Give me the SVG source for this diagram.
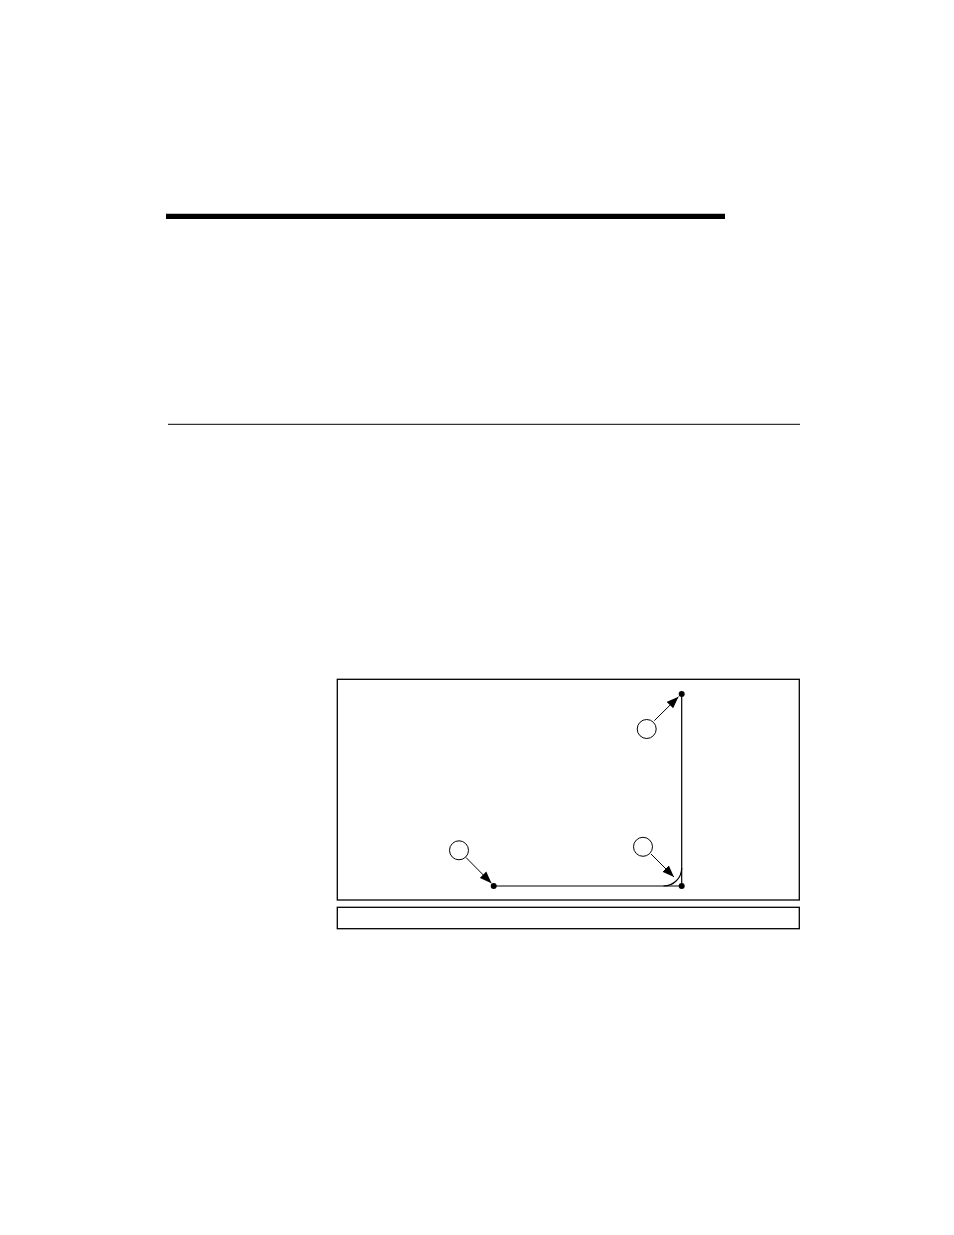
<svg xmlns="http://www.w3.org/2000/svg" width="954" height="1235" viewBox="0 0 954 1235">
<defs>
<style>
.frame{fill:none;stroke:#000;stroke-width:1.3}
.rule{stroke:#000}
.line{fill:none;stroke:#000;stroke-width:1.2}
.node{fill:#fff;stroke:#000;stroke-width:1}
.dot{fill:#000}
.ptr{fill:none;stroke:#000;stroke-width:1}
</style>
<marker id="ah" viewBox="0 0 12 10" refX="12" refY="5" markerWidth="12" markerHeight="10" markerUnits="userSpaceOnUse" orient="auto">
<path d="M0,0.5 L12,5 L0,9.5 Z" fill="#000"/>
</marker>
</defs>
<rect width="954" height="1235" fill="#fff"/>
<g id="rules">
<line class="rule" x1="166" y1="216.3" x2="725" y2="216.3" stroke-width="5.3"/>
<line class="rule" x1="168" y1="424.3" x2="800" y2="424.3" stroke-width="1"/>
</g>
<g id="frames">
<rect class="frame" x="337.3" y="679.3" width="462" height="220.7"/>
<rect class="frame" x="337.3" y="907.3" width="462" height="21.4"/>
</g>
<g id="connectors">
<polyline class="line" points="493.7,886 681.7,886 681.7,694"/>
<path class="line" d="M663.5,886 A18,18 0 0 0 681.7,868"/>
<line class="ptr" x1="654.3" y1="720.7" x2="678.5" y2="696.7" marker-end="url(#ah)"/>
<line class="ptr" x1="466" y1="857.5" x2="491.5" y2="883.3" marker-end="url(#ah)"/>
<line class="ptr" x1="651" y1="854" x2="674" y2="877" marker-end="url(#ah)"/>
</g>
<g id="point-top"><circle class="dot" cx="681.7" cy="694" r="3"/></g>
<g id="point-corner"><circle class="dot" cx="681.7" cy="886" r="3"/></g>
<g id="point-start"><circle class="dot" cx="493.7" cy="886" r="3"/></g>
<g id="callout-top"><circle class="node" cx="646.7" cy="729" r="9.5"/></g>
<g id="callout-left"><circle class="node" cx="459" cy="850.3" r="9.5"/></g>
<g id="callout-corner"><circle class="node" cx="643" cy="846.8" r="9.5"/></g>
</svg>
